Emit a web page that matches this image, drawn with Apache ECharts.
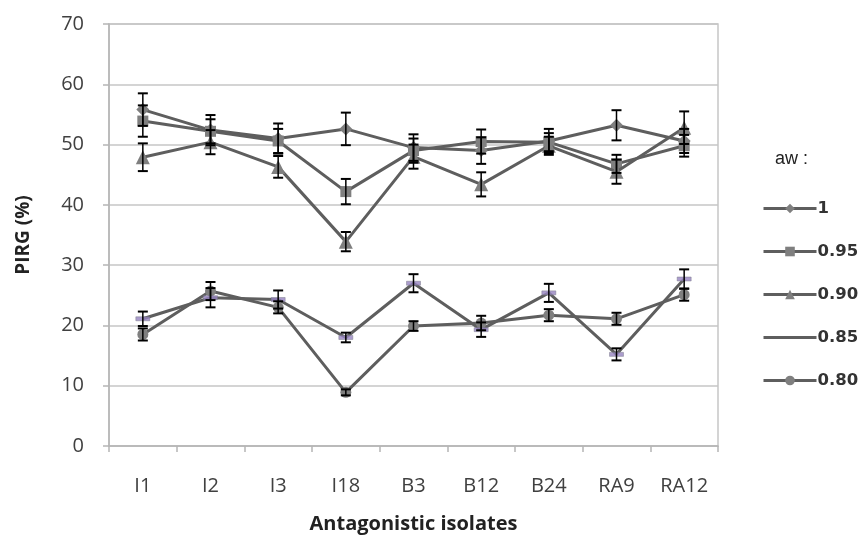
<!DOCTYPE html>
<html>
<head>
<meta charset="utf-8">
<script src="https://cdn.jsdelivr.net/npm/echarts@6/dist/echarts.min.js"></script>
<style>html,body{margin:0;padding:0;background:#fff}#c{width:861px;height:539px}</style>
</head>
<body>
<div id="c"></div>
<script>
const categories = ['I1','I2','I3','I18','B3','B12','B24','RA9','RA12'];
const seriesNames = ['1','0.95','0.90','0.85','0.80'];
const aw1   = [55.8, 52.4, 51.0, 52.6, 49.5, 49.0, 50.6, 53.2, 50.6];
const aw095 = [53.9, 52.2, 50.6, 42.2, 49.0, 50.5, 50.4, 46.8, 49.8];
const aw090 = [47.9, 50.4, 46.3, 33.9, 48.0, 43.4, 49.8, 45.5, 52.8];
const aw085 = [21.1, 24.6, 24.3, 18.0, 27.0, 19.3, 25.4, 15.2, 27.7];
const aw080 = [18.5, 25.7, 23.0, 8.9, 19.9, 20.4, 21.7, 21.1, 25.1];
const err1   = [2.7, 2.5, 2.5, 2.7, 2.2, 2.2, 2.0, 2.5, 2.0];
const err095 = [2.6, 2.0, 2.0, 2.1, 2.0, 2.0, 1.5, 1.5, 1.8];
const err090 = [2.3, 2.0, 1.8, 1.6, 2.0, 2.0, 1.5, 2.0, 2.7];
const err085 = [1.2, 1.6, 1.5, 0.8, 1.5, 1.2, 1.5, 1.0, 1.6];
const err080 = [1.0, 1.5, 1.0, 0.5, 0.8, 1.2, 1.0, 1.0, 1.0];
const yTicks = [0, 70, 10];

const means = [aw1, aw095, aw090, aw085, aw080];
const errs = [err1, err095, err090, err085, err080];
const symbols = ['diamond', 'rect', 'triangle', 'none', 'circle'];
const symSizes = [13, 11, 14, 0, 11];
const symColors = ['#7f7f7f', '#7f7f7f', '#7f7f7f', '#9683c0', '#7f7f7f'];

const chart = echarts.init(document.getElementById('c'));
const series = [];
means.forEach((m, i) => {
  series.push({
    name: seriesNames[i], type: 'line', data: m,
    symbol: symbols[i], symbolSize: symSizes[i],
    itemStyle: { color: symColors[i] },
    lineStyle: { color: '#5e5e5e', width: 3 },
    z: 2 + i
  });
});
// purple dash markers of the 0.85 series
series.push({
  type: 'scatter', name: 'm085', data: aw085, z: 9,
  symbol: 'rect', symbolSize: [14, 4],
  itemStyle: { color: '#9683c0', borderColor: '#7a7a8a', borderWidth: 0.5 }
});
means.forEach((m, i) => {
  series.push({
    type: 'custom', name: 'err' + i, z: 10,
    data: m.map((v, k) => [k, v - errs[i][k], v + errs[i][k]]),
    renderItem: function (params, api) {
      const lo = api.coord([api.value(0), api.value(1)]);
      const hi = api.coord([api.value(0), api.value(2)]);
      const h = 5;
      const st = { stroke: '#000', lineWidth: 1.5 };
      return { type: 'group', children: [
        { type: 'line', shape: { x1: lo[0], y1: lo[1], x2: hi[0], y2: hi[1] }, style: st },
        { type: 'line', shape: { x1: lo[0] - h, y1: lo[1], x2: lo[0] + h, y2: lo[1] }, style: { stroke: '#000', lineWidth: 2 } },
        { type: 'line', shape: { x1: hi[0] - h, y1: hi[1], x2: hi[0] + h, y2: hi[1] }, style: { stroke: '#000', lineWidth: 2 } }
      ]};
    }
  });
});

const legendData = seriesNames.map(n => n === '0.85'
  ? { name: n, itemStyle: { color: 'rgba(0,0,0,0)', borderWidth: 0, opacity: 0 } }
  : { name: n });

chart.setOption({
  animation: false,
  backgroundColor: '#fff',
  title: { text: 'aw :', left: 770, top: 145, textStyle: { fontSize: 18, fontWeight: 'normal', color: '#222', fontFamily: 'Liberation Sans' } },
  legend: {
    data: legendData, orient: 'vertical', left: 757, top: 195,
    itemWidth: 53, itemHeight: 12, itemGap: 26,
    lineStyle: { width: 3, color: '#5e5e5e' },
    textStyle: { fontSize: 16.5, fontWeight: 'bold', color: '#333', fontFamily: 'DejaVu Sans', padding: [0, 0, 0, -4] }
  },
  grid: { left: 109, right: 143, top: 24, bottom: 90, show: true, borderColor: '#c6c6c6', borderWidth: 1.5 },
  xAxis: {
    type: 'category', data: categories, boundaryGap: true,
    axisLine: { lineStyle: { color: '#b5b5b5', width: 1.5 } },
    axisTick: { show: true, length: 6, lineStyle: { color: '#b5b5b5', width: 1.5 } },
    axisLabel: { margin: 30, fontSize: 20, color: '#404040', fontFamily: 'Open Sans' },
    name: 'Antagonistic isolates', nameLocation: 'middle', nameGap: 68,
    nameTextStyle: { fontSize: 20, fontWeight: 'bold', color: '#222', fontFamily: 'Open Sans' }
  },
  yAxis: {
    type: 'value', min: yTicks[0], max: yTicks[1], interval: yTicks[2],
    axisLine: { show: true, lineStyle: { color: '#b5b5b5', width: 1.5 } },
    axisTick: { show: true, length: 6, lineStyle: { color: '#b5b5b5', width: 1.5 } },
    axisLabel: { margin: 25, fontSize: 20, color: '#404040', fontFamily: 'Open Sans' },
    splitLine: { lineStyle: { color: '#c6c6c6', width: 1.5 } },
    name: 'PIRG (%)', nameLocation: 'middle', nameGap: 76,
    nameTextStyle: { fontSize: 19, fontWeight: 'bold', color: '#222', fontFamily: 'Open Sans' }
  },
  series: series
});
</script>
</body>
</html>
